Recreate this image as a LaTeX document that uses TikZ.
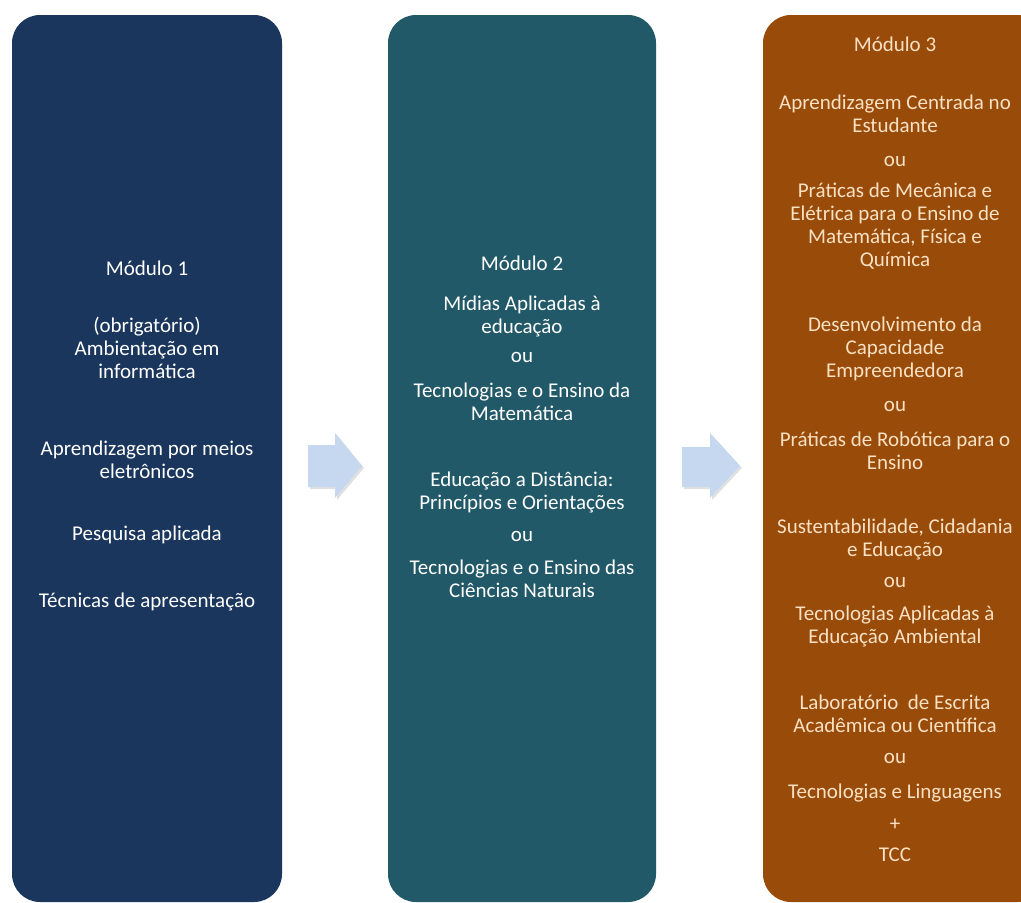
\documentclass[tikz,border=0pt]{standalone}
\usepackage{fontspec}
\setmainfont{Carlito}
\usepackage{tikz}
\definecolor{navy}{RGB}{27,54,93}
\definecolor{teal}{RGB}{34,89,104}
\definecolor{rust}{RGB}{153,75,10}
\definecolor{cream}{RGB}{250,225,195}
\definecolor{arrowblue}{RGB}{198,215,240}

\begin{document}
\begin{tikzpicture}[x=1pt, y=-1pt,
    box/.style = {rounded corners=28pt, inner sep=0pt},
    txt/.style = {align=center, inner sep=0pt, text=white, font=\fontsize{21}{23}\selectfont},
    txtb/.style = {txt, text=cream}]
        \useasboundingbox (0,0) rectangle (1021,903);
        \clip (0,0) rectangle (1021,903);
        % the three modules
        \node[box, fill=navy, minimum width=270pt, minimum height=887pt] at (147,458.5) (mod1) {};
        \node[box, fill=teal, minimum width=268pt, minimum height=887pt] at (522,458.5) (mod2) {};
        \node[box, fill=rust, minimum width=282pt, minimum height=887pt] at (904,458.5) (mod3) {};
        % arrows
        \fill[black!20, opacity=0.6] (310,447) -- (337,447) -- (337,435) -- (364,468) -- (337,500) -- (337,489) -- (310,489) -- cycle;
        \fill[arrowblue] (308,445) -- (335,445) -- (335,433) -- (362,466) -- (335,498) -- (335,487) -- (308,487) -- cycle;
        \fill[black!20, opacity=0.6] (684,449) -- (712,449) -- (712,435) -- (742,468) -- (712,500) -- (712,489) -- (684,489) -- cycle;
        \fill[arrowblue] (682,447) -- (710,447) -- (710,433) -- (740,466) -- (710,498) -- (710,487) -- (682,487) -- cycle;
        % module 1
        \node[txt] at (147,268) (t1) {Módulo 1};
        \node[txt] at (147,347.5) (t1a) {(obrigatório)\\Ambientação em\\informática};
        \node[txt] at (147,460) (t1b) {Aprendizagem por meios\\eletrônicos};
        \node[txt] at (147,535) (t1c) {Pesquisa aplicada};
        \node[txt] at (147,602) (t1d) {Técnicas de apresentação};
        % module 2
        \node[txt] at (522,263) (t2) {Módulo 2};
        \node[txt] at (522,316) (t2a) {Mídias Aplicadas à\\educação};
        \node[txt] at (522,357) (t2b) {ou};
        \node[txt] at (522,402) (t2c) {Tecnologias e o Ensino da\\Matemática};
        \node[txt] at (522,492) (t2d) {Educação a Distância:\\Princípios e Orientações};
        \node[txt] at (522,536) (t2e) {ou};
        \node[txt] at (522,579) (t2f) {Tecnologias e o Ensino das\\Ciências Naturais};
        % module 3
        \node[txtb] at (895,44) (t3) {Módulo 3};
        \node[txtb] at (895,114) (t3a) {Aprendizagem Centrada no\\Estudante};
        \node[txtb] at (895,161) (t3b) {ou};
        \node[txtb] at (895,226) (t3c) {Práticas de Mecânica e\\Elétrica para o Ensino de\\Matemática, Física e\\Química};
        \node[txtb] at (895,348.5) (t3d) {Desenvolvimento da\\Capacidade\\Empreendedora};
        \node[txtb] at (895,406) (t3e) {ou};
        \node[txtb] at (895,451) (t3f) {Práticas de Robótica para o\\Ensino};
        \node[txtb] at (895,539) (t3g) {Sustentabilidade, Cidadania\\e Educação};
        \node[txtb] at (895,582) (t3h) {ou};
        \node[txtb] at (895,626) (t3i) {Tecnologias Aplicadas à\\Educação Ambiental};
        \node[txtb] at (895,714) (t3j) {Laboratório\ \ de Escrita\\Acadêmica ou Científica};
        \node[txtb] at (895,758) (t3k) {ou};
        \node[txtb] at (895,793) (t3l) {Tecnologias e Linguagens};
        \node[txtb] at (895,825) (t3m) {+};
        \node[txtb] at (895,855) (t3n) {TCC};
\end{tikzpicture}
\end{document}
